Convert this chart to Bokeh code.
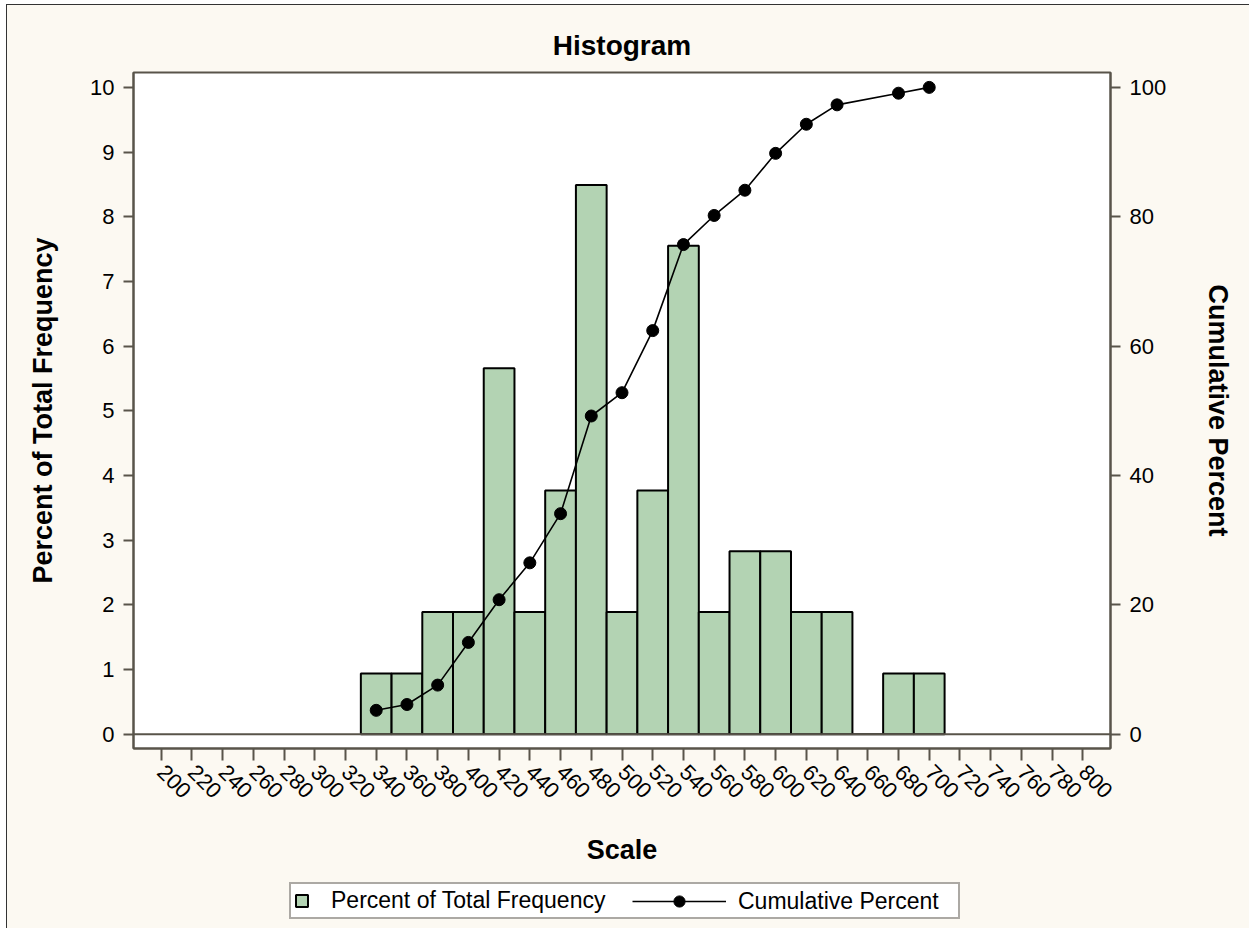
import math
from bokeh.plotting import figure
from bokeh.layouts import column
from bokeh.models import Range1d, LinearAxis, FixedTicker, Span, Legend, LegendItem
from bokeh.embed import file_html
from bokeh.resources import INLINE

# ---- data ----
bin_mid = [340, 360, 380, 400, 420, 440, 460, 480, 500, 520, 540, 560, 580, 600, 620, 640, 660, 680, 700]
pct_freq = [0.94, 0.94, 1.89, 1.89, 5.66, 1.89, 3.77, 8.49, 1.89, 3.77, 7.55, 1.89, 2.83, 2.83, 1.89, 1.89, 0.0, 0.94, 0.94]
cum_x = [340, 360, 380, 400, 420, 440, 460, 480, 500, 520, 540, 560, 580, 600, 620, 640, 680, 700]
cum_pct = [3.7, 4.6, 7.6, 14.2, 20.8, 26.5, 34.1, 49.2, 52.8, 62.4, 75.7, 80.2, 84.1, 89.8, 94.3, 97.3, 99.1, 100.0]
x_ticks = list(range(200, 801, 20))
y_ticks = list(range(0, 11))
cum_ticks = [0, 20, 40, 60, 80, 100]

FONT = "Liberation Sans"
AXIS_COL = "#59544A"
BG = "#FCF9F2"
BAR_FILL = "#B3D3B3"

W = 1242
p = figure(width=W, height=873,
           x_range=Range1d(182, 818), y_range=Range1d(-0.22, 10.23),
           output_backend="svg", toolbar_location=None,
           min_border_left=126, min_border_right=139, min_border_top=67, min_border_bottom=130,
           background_fill_color="white", border_fill_color=BG,
           title="Histogram")

p.extra_y_ranges = {"cum": Range1d(-2.2, 102.3)}
right_axis = LinearAxis(y_range_name="cum", ticker=FixedTicker(ticks=cum_ticks),
                        axis_label="Cumulative Percent")
p.add_layout(right_axis, "right")

p.title.align = "center"
p.title.text_font = FONT
p.title.text_font_size = "28px"
p.title.text_font_style = "bold"
p.title.text_color = "black"
p.title.standoff = 23

p.grid.visible = False
p.outline_line_color = AXIS_COL
p.outline_line_width = 2

p.xaxis.ticker = FixedTicker(ticks=x_ticks)
p.xaxis.axis_label = "Scale"
p.xaxis.major_label_orientation = -math.pi / 4
p.yaxis[0].ticker = FixedTicker(ticks=y_ticks)
p.yaxis[0].axis_label = "Percent of Total Frequency"

for ax in p.axis:
    ax.axis_line_color = AXIS_COL
    ax.axis_line_width = 2
    ax.major_tick_line_color = AXIS_COL
    ax.major_tick_line_width = 2
    ax.major_tick_out = 10
    ax.major_tick_in = 0
    ax.minor_tick_out = 0
    ax.minor_tick_in = 0
    ax.major_label_text_font = FONT
    ax.major_label_text_font_size = "22px"
    ax.major_label_text_color = "black"
    ax.major_label_standoff = 9
    ax.axis_label_text_font = FONT
    ax.axis_label_text_font_size = "27px"
    ax.axis_label_text_font_style = "bold"
    ax.axis_label_text_color = "black"

p.xaxis.major_tick_out = 12
p.xaxis.major_label_standoff = 8
p.xaxis.axis_label_standoff = 27
p.yaxis[0].axis_label_standoff = 29
right_axis.axis_label_standoff = 34

bars = p.vbar(x=bin_mid, top=pct_freq, width=20, fill_color=BAR_FILL,
              line_color="black", line_width=2)

zero = Span(location=0, dimension="width", line_color=AXIS_COL, line_width=2)
p.add_layout(zero)

p.line(cum_x, cum_pct, y_range_name="cum", line_color="black", line_width=1.6)
p.scatter(cum_x, cum_pct, y_range_name="cum", size=12, fill_color="black", line_color="black")

# ---- legend strip (its own small figure so the legend is not clipped) ----
lg = figure(width=W, height=50, output_backend="svg", toolbar_location=None,
            x_range=Range1d(0, 1), y_range=Range1d(0, 1),
            x_axis_location=None, y_axis_location=None,
            min_border_left=126, min_border_right=139, min_border_top=0, min_border_bottom=0,
            background_fill_color=BG, border_fill_color=BG)
lg.grid.visible = False
lg.outline_line_color = None
lg_bars = lg.vbar(x=bin_mid, top=pct_freq, width=20, fill_color=BAR_FILL,
                  line_color="black", line_width=2)
lg_line = lg.line(cum_x, cum_pct, line_color="black", line_width=1.6)
lg_pts = lg.scatter(cum_x, cum_pct, size=12, fill_color="black", line_color="black")
for r in (lg_bars, lg_line, lg_pts):
    r.visible = False

leg_a = Legend(items=[LegendItem(label="Percent of Total Frequency", renderers=[lg_bars])],
               location=(156, 9), orientation="horizontal",
               padding=3, margin=0, glyph_width=15, glyph_height=15, label_standoff=22,
               label_width=624,
               label_text_font=FONT, label_text_font_size="23px", label_text_color="black",
               border_line_color=AXIS_COL, border_line_width=2,
               background_fill_color="white", background_fill_alpha=1.0)
leg_b = Legend(items=[LegendItem(label="Cumulative Percent", renderers=[lg_line, lg_pts])],
               location=(494, 8), orientation="horizontal",
               padding=5, margin=0, glyph_width=94, glyph_height=28, label_standoff=12,
               label_text_font=FONT, label_text_font_size="23px", label_text_color="black",
               border_line_alpha=0, background_fill_alpha=0)
lg.add_layout(leg_a, "center")
lg.add_layout(leg_b, "center")

layout = column(p, lg, spacing=0)
layout.styles = {"margin-left": "6px", "margin-top": "4px", "background-color": BG,
                 "border-left": "1px solid #333333", "border-top": "1px solid #333333"}

open("out.html", "w").write(file_html(layout, INLINE))
